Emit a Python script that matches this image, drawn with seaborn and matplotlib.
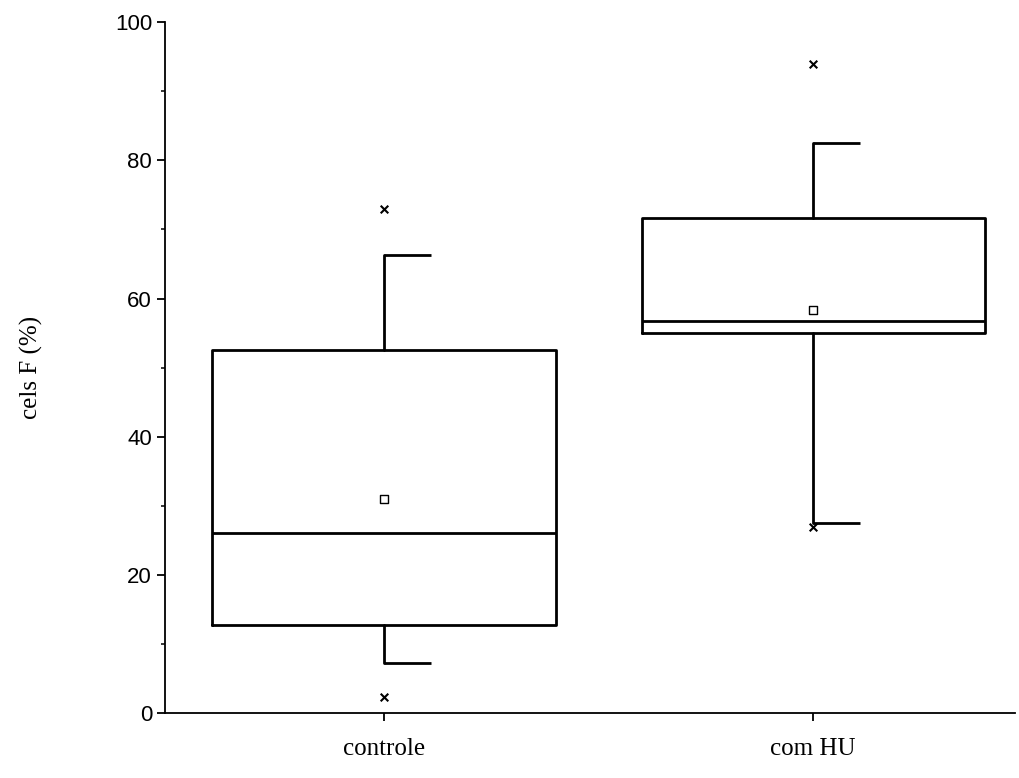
import matplotlib
matplotlib.use("Agg")
import matplotlib.pyplot as plt
import seaborn as sns
import pandas as pd

categories = ["controle", "com HU"]
q1 = [12.7, 55.0]
median = [26.0, 56.7]
q3 = [52.5, 71.7]
whisk_lo = [7.3, 27.5]
whisk_hi = [66.3, 82.5]
mean = [31.0, 58.4]
ext_lo = [2.3, 27.0]
ext_hi = [73.0, 94.0]
yticks = [0, 20, 40, 60, 80, 100]

sns.set_style("ticks")
fig = plt.figure(figsize=(10.2, 7.78), dpi=100)
ax = fig.add_axes([0.162, 0.0835, 0.833, 0.888])

stats = [dict(med=median[i], q1=q1[i], q3=q3[i], whislo=whisk_lo[i], whishi=whisk_hi[i],
              fliers=[], label=categories[i]) for i in range(2)]
ax.bxp(stats, positions=[0, 1], widths=0.8, showcaps=False,
       boxprops=dict(color="black", lw=2), whiskerprops=dict(color="black", lw=2),
       medianprops=dict(color="black", lw=2))
for i in range(2):
    ax.hlines([whisk_lo[i], whisk_hi[i]], i, i + 0.11, color="black", lw=2)

dm = pd.DataFrame({"x": [0, 1], "y": mean})
sns.scatterplot(data=dm, x="x", y="y", marker="s", s=30, facecolor="white",
                edgecolor="black", linewidth=1, ax=ax, zorder=5)
de = pd.DataFrame({"x": [0, 1, 0, 1], "y": ext_lo + ext_hi})
sns.scatterplot(data=de, x="x", y="y", marker="x", s=30, color="black",
                linewidth=1.5, ax=ax, zorder=5)

ax.set_xlim(-0.51, 1.47)
ax.set_ylim(0, 100)
ax.set_xticks([0, 1])
ax.set_xticklabels(categories, fontfamily="Liberation Serif", fontsize=18)
ax.set_yticks(yticks)
ax.set_yticks(range(10, 100, 20), minor=True)
ax.set_yticklabels([str(t) for t in yticks], fontfamily="Liberation Sans", fontsize=16)
ax.set_xlabel("")
ax.set_ylabel("cels F (%)", fontfamily="Liberation Serif", fontsize=18, labelpad=52,
              color="black")
ax.tick_params(axis="x", which="major", pad=12)
ax.tick_params(axis="both", which="major", length=6, width=1.3, direction="out",
               colors="black")
ax.tick_params(axis="y", which="minor", length=3, width=1.1, direction="out", colors="black")
for s in ["left", "bottom"]:
    ax.spines[s].set_linewidth(1.3)
    ax.spines[s].set_color("black")
sns.despine(ax=ax)
fig.savefig("out.png", dpi=100)
